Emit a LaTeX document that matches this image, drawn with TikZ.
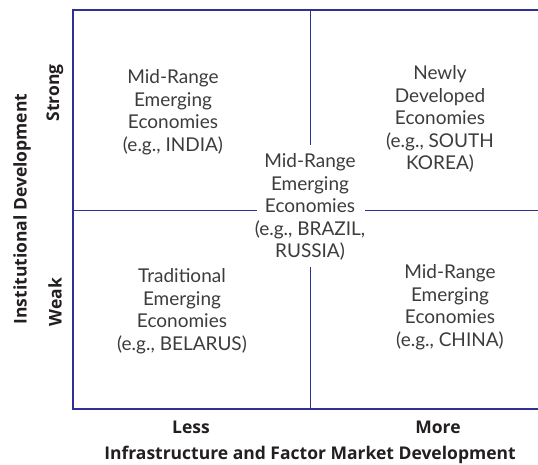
\documentclass[tikz,border=0pt]{standalone}
\usepackage{fontspec}
\setmainfont{Lato}
\newfontfamily\labelfont{Open Sans}
\usetikzlibrary{calc}
\definecolor{navy}{HTML}{2E3192}
\definecolor{txtgray}{HTML}{3C3C3C}
\definecolor{txtdark}{HTML}{231F20}
\tikzset{
  quad/.style={align=center,text=txtgray,font=\fontsize{19}{22.5}\selectfont},
  axislabel/.style={text=txtdark,font=\labelfont\bfseries\fontsize{17.5}{20}\selectfont},
}

\begin{document}
\begin{tikzpicture}[x=1pt,y=-1pt]
                \useasboundingbox (0,0) rectangle (538,464);
                \coordinate (A) at (73,10);
                \coordinate (B) at (73,409);
                \coordinate (C) at (538,10);
                \coordinate (D) at (538,409);
                \draw[navy,line width=1.6pt] (C)--(A)--(B)--(D);

                % dividers, broken round the middle cell
                \coordinate (vtop) at (310,10);
                \coordinate (vgap1) at (310,145);
                \coordinate (vgap2) at (310,267);
                \coordinate (vbot) at (310,409);
                \coordinate (hleft) at (73,210);
                \coordinate (hgap1) at (257,210);
                \coordinate (hgap2) at (365,210);
                \coordinate (hright) at (538,210);
                \draw[navy,line width=0.8pt] (vtop)--(vgap1) (vgap2)--(vbot);
                \draw[navy,line width=0.8pt] (hleft)--(hgap1) (hgap2)--(hright);

                % cells
                \node[quad] (mid) at (310,207) {Mid-Range\\Emerging\\Economies\\(e.g., BRAZIL,\\RUSSIA)};
                \node[quad] (tl) at (173,112) {Mid-Range\\Emerging\\Economies\\(e.g., INDIA)};
                \node[quad] (tr) at (440,119) {Newly\\Developed\\Economies\\(e.g., SOUTH\\KOREA)};
                \node[quad] (bl) at (182,311) {Traditional\\Emerging\\Economies\\(e.g., BELARUS)};
                \node[quad] (br) at (450,307) {Mid-Range\\Emerging\\Economies\\(e.g., CHINA)};

                % axes
                \node[axislabel,rotate=90] (strong) at (55,93) {Strong};
                \node[axislabel,rotate=90] (weak) at (55,302) {Weak};
                \node[axislabel,rotate=90] (ylab) at (22,209) {Institutional Development};
                \node[axislabel] (less) at (191,427) {Less};
                \node[axislabel] (more) at (438,427) {More};
                \node[axislabel] (xlab) at (310,455) {Infrastructure and Factor Market Development};
            \end{tikzpicture}
\end{document}
